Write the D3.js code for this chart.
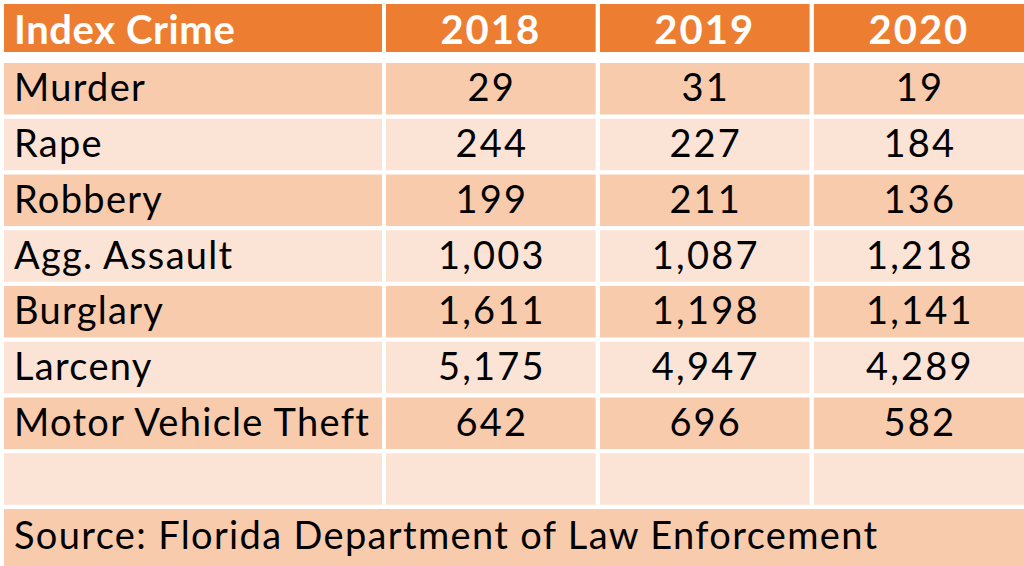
<!DOCTYPE html>
<html>
<head>
<meta charset="utf-8">
<script src="https://d3js.org/d3.v7.min.js"></script>
<style>
  body { margin: 0; background: #fff; }
  svg text { font-family: Lato, "Open Sans", sans-serif; }
</style>
</head>
<body>
<svg id="chart"></svg>
<script>
var width = 1024, height = 566;

// table data
var years = ["2018", "2019", "2020"];
var crimes = ["Murder", "Rape", "Robbery", "Agg. Assault", "Burglary", "Larceny", "Motor Vehicle Theft"];
var counts2018 = [29, 244, 199, 1003, 1611, 5175, 642];
var counts2019 = [31, 227, 211, 1087, 1198, 4947, 696];
var counts2020 = [19, 184, 136, 1218, 1141, 4289, 582];
var headerLabel = "Index Crime";
var sourceNote = "Source: Florida Department of Law Enforcement";

var series = [counts2018, counts2019, counts2020];
var fmt = d3.format(",");

var svg = d3.select("#chart").attr("width", width).attr("height", height);

// columns: first label column, then one band per year
var labelCol = { x: 4, w: 378 };
var x = d3.scaleBand().domain(years).range([386, 1023.5]).paddingInner(0.02);
function colW(yr) {
  return yr === years[years.length - 1] ? width - x(yr) : x.bandwidth();
}

// rows: crimes + one empty row + source row
var rowIdx = d3.range(crimes.length + 2);
var y = d3.scaleLinear().domain([0, 8]).range([63, 509]);
var rowH = 51.5;
var headerY = 4, headerH = 48;

var orange = "#ED7D31", dark = "#F8CBAD", light = "#FBE4D5";
var fontSize = 38;

// header
var head = svg.append("g");
head.append("rect").attr("x", labelCol.x).attr("y", headerY)
  .attr("width", labelCol.w).attr("height", headerH).attr("fill", orange);
head.selectAll("rect.yr").data(years).enter().append("rect")
  .attr("class", "yr")
  .attr("x", function(d) { return x(d); })
  .attr("y", headerY)
  .attr("width", colW)
  .attr("height", headerH)
  .attr("fill", orange);
head.append("text").attr("x", labelCol.x + 10).attr("y", headerY + headerH / 2 + 1.5)
  .attr("dy", "0.36em").attr("fill", "#fff").attr("font-weight", "bold")
  .attr("letter-spacing", 0.6)
  .attr("font-size", 40).text(headerLabel);
head.selectAll("text.yr").data(years).enter().append("text")
  .attr("class", "yr")
  .attr("x", function(d) { return x(d) + colW(d) / 2; })
  .attr("y", headerY + headerH / 2 + 1.5)
  .attr("dy", "0.36em").attr("text-anchor", "middle")
  .attr("fill", "#fff").attr("font-weight", "bold")
  .attr("letter-spacing", 2)
  .attr("font-size", 40).text(function(d) { return d; });

// body rows (crimes + empty row)
var bodyRows = rowIdx.slice(0, crimes.length + 1);
var row = svg.selectAll("g.row").data(bodyRows).enter().append("g")
  .attr("class", "row");

row.append("rect")
  .attr("x", labelCol.x)
  .attr("y", function(i) { return y(i); })
  .attr("width", labelCol.w).attr("height", rowH)
  .attr("fill", function(i) { return i % 2 === 0 ? dark : light; });

years.forEach(function(yr) {
  row.append("rect")
    .attr("x", x(yr))
    .attr("y", function(i) { return y(i); })
    .attr("width", colW(yr)).attr("height", rowH)
    .attr("fill", function(i) { return i % 2 === 0 ? dark : light; });
});

row.filter(function(i) { return i < crimes.length; })
  .append("text")
  .attr("x", labelCol.x + 10)
  .attr("y", function(i) { return y(i) + rowH / 2 - 1; })
  .attr("dy", "0.36em")
  .attr("letter-spacing", 1.3)
  .attr("font-size", fontSize).attr("fill", "#000")
  .text(function(i) { return crimes[i]; });

years.forEach(function(yr, j) {
  row.filter(function(i) { return i < crimes.length; })
    .append("text")
    .attr("x", x(yr) + colW(yr) / 2 + 1)
    .attr("y", function(i) { return y(i) + rowH / 2 - 1; })
    .attr("dy", "0.36em").attr("text-anchor", "middle")
    .attr("letter-spacing", 2.2)
    .attr("font-size", fontSize).attr("fill", "#000")
    .text(function(i) { return fmt(series[j][i]); });
});

// source row spans the full width
var srcTop = y(crimes.length + 1);
svg.append("rect").attr("x", labelCol.x).attr("y", srcTop)
  .attr("width", width - labelCol.x).attr("height", height - srcTop)
  .attr("fill", dark);
svg.append("text").attr("x", labelCol.x + 10).attr("y", srcTop + 26)
  .attr("dy", "0.36em").attr("font-size", fontSize).attr("fill", "#000")
  .attr("letter-spacing", 1.35)
  .text(sourceNote);
</script>
</body>
</html>
